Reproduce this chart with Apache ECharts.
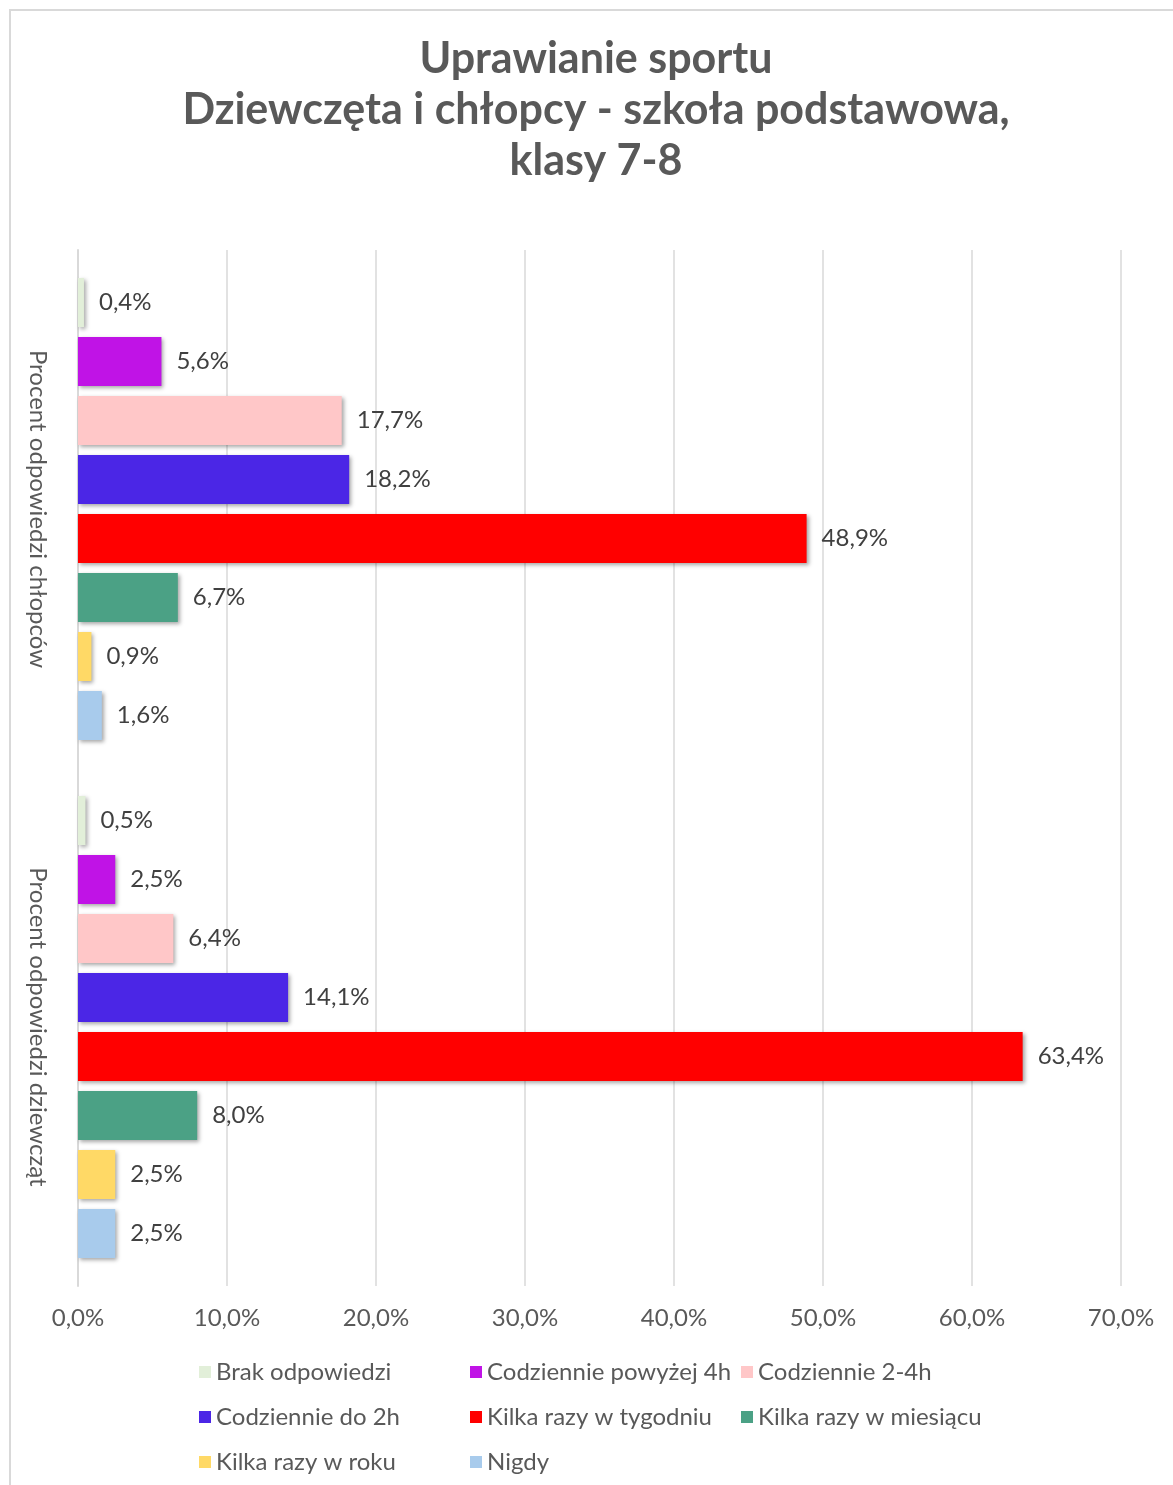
<!DOCTYPE html>
<html>
<head>
<meta charset="utf-8">
<script src="https://cdn.jsdelivr.net/npm/echarts@6/dist/echarts.min.js"></script>
<style>
html,body{margin:0;padding:0;background:#fff;}
#chart{width:1173px;height:1485px;}
</style>
</head>
<body>
<div id="chart"></div>
<script>
var categories = ['Procent odpowiedzi chłopców', 'Procent odpowiedzi dziewcząt'];
var seriesNames = ['Brak odpowiedzi', 'Codziennie powyżej 4h', 'Codziennie 2-4h', 'Codziennie do 2h', 'Kilka razy w tygodniu', 'Kilka razy w miesiącu', 'Kilka razy w roku', 'Nigdy'];
var brak = [0.4, 0.5];
var powyzej4h = [5.6, 2.5];
var od2do4h = [17.7, 6.4];
var do2h = [18.2, 14.1];
var tygodniu = [48.9, 63.4];
var miesiacu = [6.7, 8.0];
var roku = [0.9, 2.5];
var nigdy = [1.6, 2.5];
var seriesValues = [brak, powyzej4h, od2do4h, do2h, tygodniu, miesiacu, roku, nigdy];
var colors = ['#e2efd9', '#c013e6', '#ffc7c8', '#4b26e6', '#ff0000', '#4ba185', '#ffd966', '#a8cbec'];
var xTicks = [0, 10, 20, 30, 40, 50, 60, 70];

var FONT = 'Lato';
function pct(v){ return Number(v).toFixed(1).replace('.', ',') + '%'; }

var chart = echarts.init(document.getElementById('chart'));

var series = seriesNames.map(function(name, i){
  return {
    name: name,
    type: 'bar',
    data: seriesValues[i],
    barWidth: 49,
    barGap: '20.4%',
    itemStyle: {
      color: colors[i],
      shadowBlur: 4,
      shadowOffsetX: 2,
      shadowOffsetY: 2,
      shadowColor: 'rgba(0,0,0,0.35)'
    },
    label: {
      show: true,
      position: 'right',
      distance: 15,
      fontFamily: FONT,
      fontSize: 24,
      color: '#404040',
      padding: [3, 0, 0, 0],
      formatter: function(p){ return pct(p.value); }
    }
  };
});

var legendLefts = [199, 470, 741];
var legendTops = [1360, 1405, 1450];
var legends = seriesNames.map(function(name, i){
  return {
    data: [name],
    left: legendLefts[i % 3],
    top: legendTops[Math.floor(i / 3)],
    padding: 0,
    icon: 'rect',
    itemWidth: 12,
    itemHeight: 12,
    itemGap: 0,
    selectedMode: false,
    textStyle: { fontFamily: FONT, fontSize: 24, color: '#595959', padding: [0, 0, 0, 0] }
  };
});

chart.setOption({
  backgroundColor: '#ffffff',
  animation: false,
  color: colors,
  textStyle: { fontFamily: FONT },
  graphic: [{
    type: 'rect',
    shape: { x: 10, y: 10, width: 1300, height: 1600 },
    style: { fill: 'none', stroke: '#d9d9d9', lineWidth: 2 },
    silent: true,
    z: -1
  }],
  title: {
    text: 'Uprawianie sportu\nDziewczęta i chłopcy - szkoła podstawowa,\nklasy 7-8',
    left: 596,
    top: 34,
    padding: 0,
    textAlign: 'center',
    textStyle: {
      fontFamily: FONT,
      fontSize: 43,
      fontWeight: 'bold',
      color: '#595959',
      lineHeight: 51
    }
  },
  legend: legends,
  grid: { left: 78, right: 52, top: 250, bottom: 199, containLabel: false },
  xAxis: {
    type: 'value',
    min: xTicks[0],
    max: xTicks[xTicks.length - 1],
    interval: 10,
    axisLine: { show: false },
    axisTick: { show: false },
    splitLine: { show: true, lineStyle: { color: '#d9d9d9', width: 1.5 } },
    axisLabel: {
      fontFamily: FONT,
      fontSize: 24,
      color: '#595959',
      margin: 20,
      formatter: function(v){ return pct(v); }
    }
  },
  yAxis: {
    type: 'category',
    data: categories,
    inverse: true,
    axisLine: { show: true, lineStyle: { color: '#d9d9d9', width: 2 } },
    axisTick: { show: false },
    axisLabel: {
      rotate: -90,
      fontFamily: FONT,
      fontSize: 24,
      color: '#595959',
      margin: 28
    }
  },
  series: series
});
</script>
</body>
</html>
